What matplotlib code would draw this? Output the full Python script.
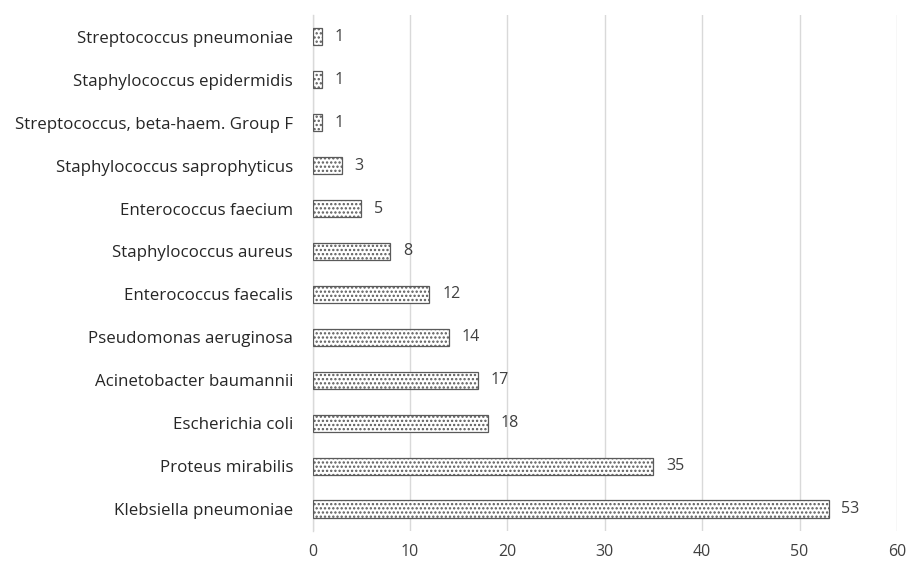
import matplotlib
matplotlib.use("Agg")
import matplotlib.pyplot as plt

species = [
    "Klebsiella pneumoniae",
    "Proteus mirabilis",
    "Escherichia coli",
    "Acinetobacter baumannii",
    "Pseudomonas aeruginosa",
    "Enterococcus faecalis",
    "Staphylococcus aureus",
    "Enterococcus faecium",
    "Staphylococcus saprophyticus",
    "Streptococcus, beta-haem. Group F",
    "Staphylococcus epidermidis",
    "Streptococcus pneumoniae",
]
counts = [53, 35, 18, 17, 14, 12, 8, 5, 3, 1, 1, 1]
x_ticks = [0, 10, 20, 30, 40, 50, 60]

plt.rcParams["font.family"] = ["Open Sans", "DejaVu Sans"]
plt.rcParams["hatch.linewidth"] = 1.1
plt.rcParams["hatch.color"] = "#444444"

fig = plt.figure(figsize=(9.06, 5.63), dpi=100)
ax = fig.add_axes([0.345, 0.0577, 0.645, 0.915])

ypos = list(range(len(species)))
ax.barh(ypos, counts, height=0.4, color="white", edgecolor="#5a5a5a",
        linewidth=0.9, hatch="....", zorder=3)

for y, v in zip(ypos, counts):
    ax.text(v + 1.3, y, str(v), va="center", ha="left", fontsize=11.5, color="#404040")

ax.set_xlim(0, 60)
ax.set_ylim(-0.5, len(species) - 0.5)
ax.set_xticks(x_ticks)
ax.set_yticks(ypos)
ax.set_yticklabels(species, fontsize=12.2, color="#262626")
ax.tick_params(axis="x", labelsize=11.5, colors="#404040", length=0, pad=10)
ax.tick_params(axis="y", length=0, pad=14)
ax.grid(axis="x", color="#d9d9d9", linewidth=1.0, zorder=0)
for s in ["top", "right", "bottom"]:
    ax.spines[s].set_visible(False)
ax.spines["left"].set_color("#d9d9d9")
ax.spines["left"].set_linewidth(1.0)

fig.savefig("out.png", dpi=100, facecolor="white")
